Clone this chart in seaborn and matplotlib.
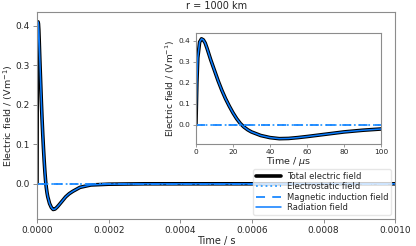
import matplotlib
matplotlib.use("Agg")
import matplotlib.pyplot as plt
import pandas as pd
import seaborn as sns

# Field values (time in microseconds, field in V/m)
time_us = [0, 0.5, 1, 2, 3, 4, 5, 6, 8, 10, 12, 14, 16, 18, 20, 22, 24, 26, 28, 30,
           35, 40, 45, 50, 55, 60, 70, 80, 90, 100, 120, 150, 200, 300, 500, 1000]
total_field = [0.0, 0.2, 0.32, 0.395, 0.41, 0.405, 0.39, 0.365, 0.31, 0.26, 0.21,
               0.165, 0.125, 0.09, 0.058, 0.03, 0.007, -0.01, -0.023, -0.033, -0.05,
               -0.06, -0.065, -0.064, -0.06, -0.055, -0.044, -0.033, -0.025, -0.019,
               -0.009, -0.003, -0.001, 0.0, 0.0, 0.0]
radiation_field = [0.0, 0.2, 0.32, 0.395, 0.41, 0.405, 0.39, 0.365, 0.31, 0.26, 0.21,
                   0.165, 0.125, 0.09, 0.058, 0.03, 0.007, -0.01, -0.023, -0.033, -0.05,
                   -0.06, -0.065, -0.064, -0.06, -0.055, -0.044, -0.033, -0.025, -0.019,
                   -0.009, -0.003, -0.001, 0.0, 0.0, 0.0]
electrostatic_field = [0.0] * 36
induction_field = [0.0] * 36

df = pd.DataFrame({
    "t_us": time_us,
    "t_s": [t * 1e-6 for t in time_us],
    "total": total_field,
    "static": electrostatic_field,
    "induction": induction_field,
    "radiation": radiation_field,
})

sns.set_style("ticks", {"axes.edgecolor": "0.55", "xtick.color": "0.55",
                        "ytick.color": "0.55"})
plt.rcParams["font.family"] = ["DejaVu Sans"]
plt.rcParams["xtick.labelcolor"] = "0.15"
plt.rcParams["ytick.labelcolor"] = "0.15"
plt.rcParams["axes.linewidth"] = 0.8

series = [
    ("total", "Total electric field", "black", "-", 2.6),
    ("static", "Electrostatic field", "#2e9bff", ":", 1.3),
    ("induction", "Magnetic induction field", "#1a88ff", (0, (5, 4)), 1.3),
    ("radiation", "Radiation field", "#0a7cff", "-", 1.1),
]


def draw(ax, xcol, legend):
    for col, label, color, ls, lw in series:
        sns.lineplot(data=df, x=xcol, y=col, ax=ax, color=color, linestyle=ls,
                     linewidth=lw, label=label if legend else None, sort=False)


fig = plt.figure(figsize=(4.16, 2.46), dpi=100)
ax = fig.add_axes([0.089, 0.110, 0.861, 0.841])
draw(ax, "t_s", True)
ax.set_xlim(0, 0.001)
ax.set_ylim(-0.089, 0.435)
ax.set_xticks([0, 0.0002, 0.0004, 0.0006, 0.0008, 0.001])
ax.set_xticklabels(["0.0000", "0.0002", "0.0004", "0.0006", "0.0008", "0.0010"])
ax.set_yticks([0.0, 0.1, 0.2, 0.3, 0.4])
ax.tick_params(labelsize=6.5, length=3, width=0.7, pad=2)
ax.set_xlabel("Time / s", fontsize=7, labelpad=1)
ax.set_ylabel("Electric field / (Vm$^{-1}$)", fontsize=6.8, labelpad=0.5)
ax.set_title("r = 1000 km", fontsize=7, pad=2)
ax.legend(loc="lower right", fontsize=6, handlelength=3.0, borderpad=0.35,
          labelspacing=0.15, handletextpad=0.7, frameon=True, edgecolor="0.88",
          fancybox=True)

ins = fig.add_axes([0.471, 0.415, 0.445, 0.451])
draw(ins, "t_us", False)
ins.set_xlim(0, 100)
ins.set_ylim(-0.09, 0.438)
ins.set_xticks([0, 20, 40, 60, 80, 100])
ins.set_yticks([0.0, 0.1, 0.2, 0.3, 0.4])
ins.tick_params(labelsize=5.3, length=2.5, width=0.6, pad=1.5)
ins.set_xlabel("Time / $\\mu$s", fontsize=6.8, labelpad=0)
ins.set_ylabel("Electric field / (Vm$^{-1}$)", fontsize=6.5, labelpad=1)

fig.savefig("out.png", dpi=100)
